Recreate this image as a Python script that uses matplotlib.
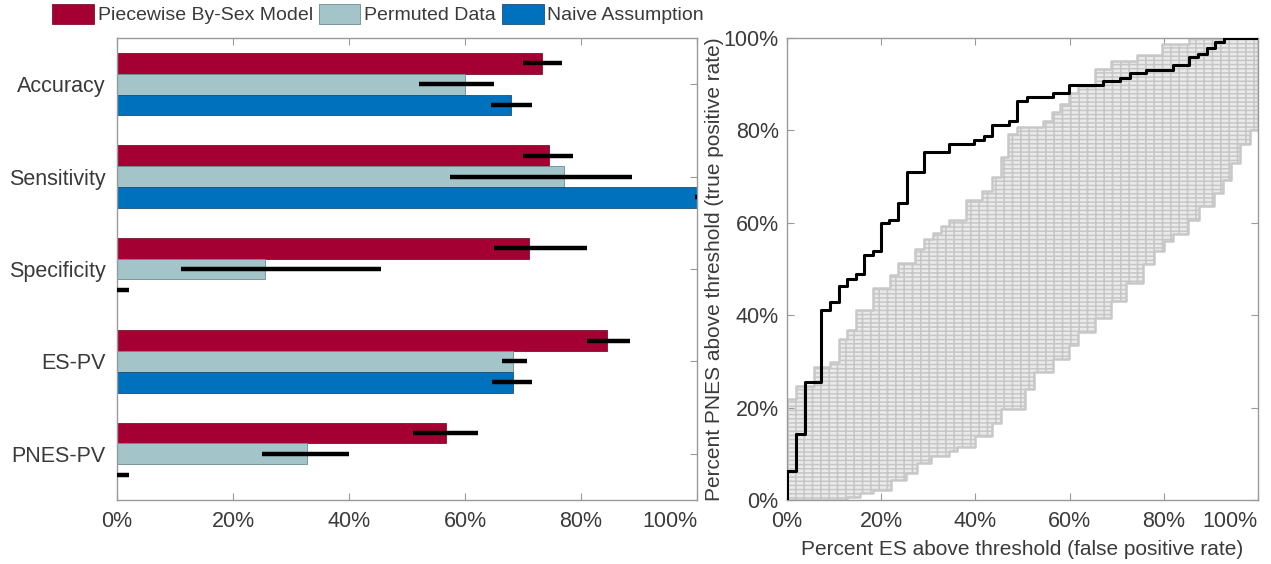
import numpy as np
import matplotlib
matplotlib.use("Agg")
from matplotlib import pyplot as plt
from matplotlib.ticker import PercentFormatter

plt.rcParams['font.family'] = ['Liberation Sans', 'DejaVu Sans']
plt.rcParams['hatch.linewidth'] = 1.1

# --- left panel: classification metrics (percent) ---
metrics = ["Accuracy", "Sensitivity", "Specificity", "ES-PV", "PNES-PV"]
series = ["Piecewise By-Sex Model", "Permuted Data", "Naive Assumption"]

model_val = [73.3, 74.5, 71.0, 84.5, 56.7]
model_lo = [70.0, 70.0, 65.0, 81.0, 51.0]
model_hi = [76.7, 78.6, 81.0, 88.5, 62.2]

perm_val = [60.0, 77.0, 25.5, 68.3, 32.8]
perm_lo = [52.0, 57.4, 11.0, 66.4, 25.0]
perm_hi = [65.0, 88.8, 45.5, 70.7, 40.0]

naive_val = [68.0, 100.0, 0.0, 68.3, 0.0]
naive_lo = [64.5, 99.6, 0.0, 64.6, 0.0]
naive_hi = [71.5, 100.0, 2.0, 71.5, 2.0]

# --- right panel: ROC curve of the model (step curve, jump x -> level) ---
roc_fpr = [0, 0, 1.9, 3.9, 7.2, 9.2, 11.1, 12.7, 14.7, 16.4, 18.2, 20.0, 21.7,
           23.6, 25.4, 29.1, 34.5, 39.6, 41.9, 43.6, 47.2, 48.9, 50.9, 56.4,
           59.9, 67.1, 70.8, 72.9, 76.3, 81.9, 85.4, 87.3, 89.1, 90.9, 92.8, 100]
roc_tpr = [0, 6.3, 14.2, 25.5, 41.1, 42.9, 46.4, 47.9, 48.9, 53.1, 54.0, 60.0,
           60.7, 64.3, 71.0, 75.3, 77.0, 77.9, 78.7, 81.1, 82.1, 86.4, 87.3,
           88.2, 89.9, 90.6, 91.4, 92.4, 93.1, 94.2, 95.9, 96.6, 97.9, 99.1,
           100, 100]

# envelope of the permuted-data ROC curves
perm_up_fpr = [0, 0, 1.9, 5.7, 9.2, 11.0, 12.7, 14.7, 18.2, 21.9, 23.6, 27.1,
               29.1, 30.9, 32.7, 34.5, 38.0, 41.5, 43.5, 45.4, 47.0, 48.9,
               54.4, 56.2, 57.9, 59.9, 61.8, 65.3, 68.8, 74.3, 79.7, 85.4, 100]
perm_up_tpr = [0, 21.8, 24.7, 28.7, 29.8, 34.9, 36.7, 41.1, 45.9, 48.6, 51.4,
               54.3, 56.4, 57.9, 59.3, 60.7, 65.0, 66.8, 70.0, 74.3, 79.3, 80.7,
               82.1, 83.9, 85.7, 88.2, 89.6, 93.2, 95.0, 96.4, 98.6, 100, 100]
perm_lo_fpr = [0, 12.7, 15.5, 18.2, 22.0, 25.2, 27.5, 30.6, 34.5, 36.0, 40.0,
               43.5, 45.4, 50.5, 52.5, 56.4, 59.9, 61.8, 65.3, 68.8, 72.0, 75.5,
               78.0, 80.0, 82.0, 85.2, 87.5, 90.6, 92.6, 94.2, 96.1, 98.4, 100]
perm_lo_tpr = [0, 0.7, 1.5, 2.2, 4.4, 5.8, 8.0, 9.5, 10.5, 11.5, 13.8, 16.7,
               19.6, 24.0, 27.6, 30.5, 33.5, 36.4, 39.3, 43.0, 47.0, 51.0, 54.0,
               56.0, 57.5, 60.7, 63.6, 66.4, 69.3, 72.9, 77.1, 80.0, 100]

red = "#A50034"
teal = "#A3C5CA"
blue = "#0072BD"
axis_grey = "#9a9a9a"
text_col = "#3a3a3a"


def stair(x, y):
    # vertices of a 'post' step curve
    vx, vy = [x[0]], [y[0]]
    for i in range(1, len(x)):
        vx += [x[i], x[i]]
        vy += [y[i - 1], y[i]]
    return vx, vy


fig = plt.figure(figsize=(12.71, 5.64), dpi=100)
ax1 = fig.add_axes([117 / 1271, 1 - 500 / 564, 580 / 1271, 462 / 564])
ax2 = fig.add_axes([787 / 1271, 1 - 500 / 564, 471 / 1271, 462 / 564])

# bars
pos = np.arange(1, len(metrics) + 1)
h = 0.225
groups = [
    (model_val, model_lo, model_hi, red, "#7d1030", -h),
    (perm_val, perm_lo, perm_hi, teal, "#6d8c90", 0.0),
    (naive_val, naive_lo, naive_hi, blue, "#1f4f73", h),
]
handles = []
for (vals, lo, hi, col, ec, off), name in zip(groups, series):
    b = ax1.barh(pos + off, vals, height=h, color=col, edgecolor=ec,
                 linewidth=0.6, label=name, zorder=2)
    handles.append(b)
    ax1.hlines(pos + off, lo, hi, color="black", linewidth=3.2, zorder=3)

ax1.set_xlim(0, 100)
ax1.set_ylim(5.5, 0.5)
ax1.set_yticks(pos)
ax1.set_yticklabels(metrics)
ax1.set_xticks(np.arange(0, 101, 20))
ax1.xaxis.set_major_formatter(PercentFormatter(decimals=0))

leg = fig.legend(handles=handles, labels=series, ncol=3, loc="upper right",
                 bbox_to_anchor=(708 / 1271, 1.0), frameon=False, fontsize=14,
                 handlelength=2.15, handleheight=1.2, handletextpad=0.2,
                 columnspacing=0.3, borderpad=0.1, borderaxespad=0.1)
for t in leg.get_texts():
    t.set_color(text_col)

# ROC panel
ux, uy = stair(perm_up_fpr, perm_up_tpr)
lx, ly = stair(perm_lo_fpr, perm_lo_tpr)
poly_x = ux + lx[::-1]
poly_y = uy + ly[::-1]
ax2.fill(poly_x, poly_y, facecolor="#eaeaea", edgecolor="#c6c6c6",
         hatch="----||", linewidth=0, zorder=1)
ax2.step(perm_up_fpr, perm_up_tpr, where="post", color="#c8c8c8", lw=1.8, zorder=2)
ax2.step(perm_lo_fpr, perm_lo_tpr, where="post", color="#c8c8c8", lw=1.8, zorder=2)
ax2.step(roc_fpr, roc_tpr, where="post", color="black", lw=2.2, zorder=3)

ax2.set_xlim(0, 100)
ax2.set_ylim(0, 100)
ax2.set_xticks(np.arange(0, 101, 20))
ax2.set_yticks(np.arange(0, 101, 20))
ax2.xaxis.set_major_formatter(PercentFormatter(decimals=0))
ax2.yaxis.set_major_formatter(PercentFormatter(decimals=0))
ax2.set_xlabel("Percent ES above threshold (false positive rate)",
               fontsize=15, color=text_col, labelpad=6)
ax2.set_ylabel("Percent PNES above threshold (true positive rate)",
               fontsize=15, color=text_col, labelpad=0)

for ax in (ax1, ax2):
    for s in ax.spines.values():
        s.set_color(axis_grey)
        s.set_linewidth(1.0)
    ax.tick_params(direction="in", length=5, width=0.8, color=axis_grey,
                   labelsize=15.5, labelcolor=text_col,
                   top=True, right=True, pad=8)
ax2.tick_params(axis="y", pad=6)

# last x label flush with the axis end
for ax in (ax1, ax2):
    fig.canvas.draw()
    ax.get_xticklabels()[-1].set_horizontalalignment("right")

plt.savefig("out.png", dpi=100)
plt.close()
